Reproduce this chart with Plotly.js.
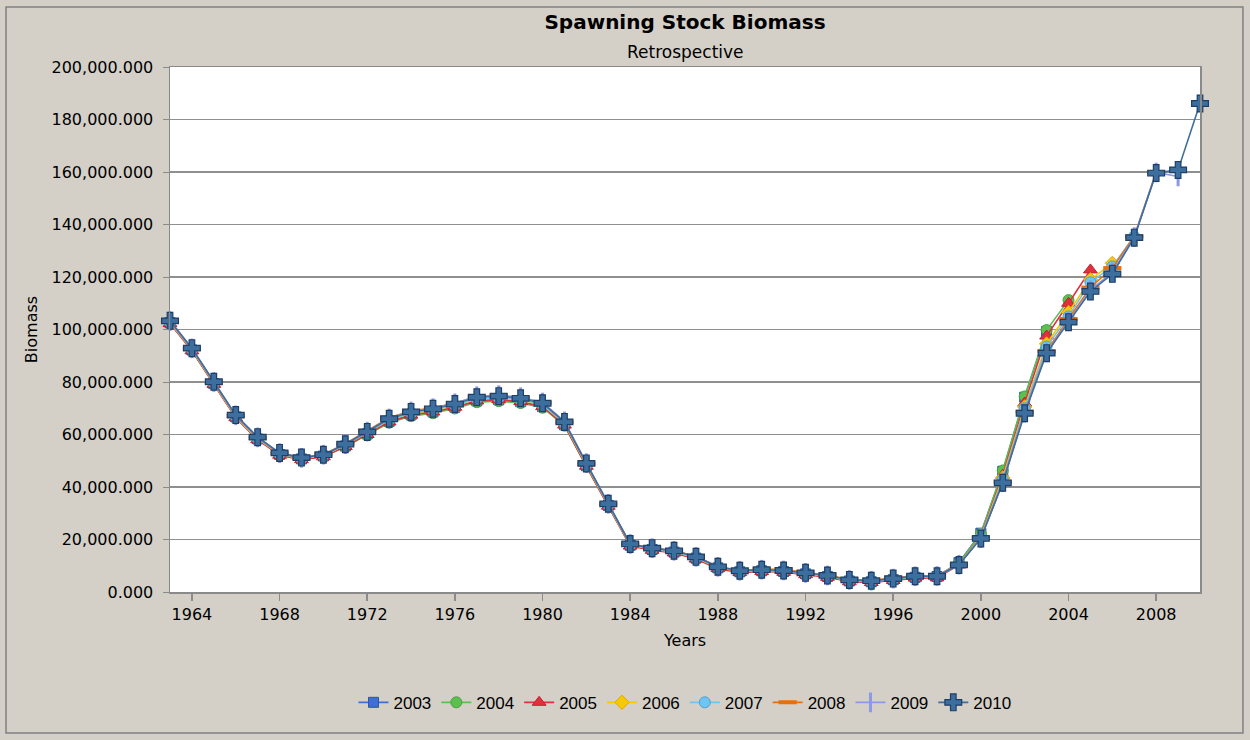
<!DOCTYPE html>
<html>
<head>
<meta charset="utf-8">
<script src="https://cdn.plot.ly/plotly-3.0.1.min.js"></script>
<style>html,body{margin:0;padding:0;background:#D4D0C8;}#chart{width:1250px;height:740px;}</style>
</head>
<body>
<div id="chart"></div>
<script>
// Years 1963..2010
const years = [1963,1964,1965,1966,1967,1968,1969,1970,1971,1972,
  1973,1974,1975,1976,1977,1978,1979,1980,1981,1982,
  1983,1984,1985,1986,1987,1988,1989,1990,1991,1992,
  1993,1994,1995,1996,1997,1998,1999,2000,2001,2002,
  2003,2004,2005,2006,2007,2008,2009,2010];

// Spawning stock biomass by retrospective run (thousands)
const ssb2003 = [102600,92200,79400,66700,58300,52400,50700,51800,55600,60200,
  65000,67500,68600,70400,72800,73200,72500,70600,63700,48100,
  33000,17800,16200,15200,12900,9200,7700,8100,7800,6900,
  5900,4200,3900,4700,5600,5900,11200,22400,46000,74200,
  99300];
const ssb2004 = [102500,92100,79300,66600,58200,52300,50500,51600,55300,59800,
  64500,67000,68100,69900,72300,72700,72000,70200,63400,47900,
  32900,17800,16200,15200,12900,9200,7700,8100,7800,6900,
  5900,4200,3900,4700,5600,5800,11000,22200,46300,74500,
  99800,111200];
const ssb2005 = [102300,91900,79100,66400,58000,52100,50400,51500,55400,60000,
  64800,67400,68600,70400,72800,73200,72500,70600,63600,47900,
  32700,17500,15900,14900,12600,8900,7400,7800,7500,6600,
  5600,3900,3600,4400,5300,5400,10300,21300,44500,72000,
  97500,110000,122700];
const ssb2006 = [102700,92300,79500,66800,58400,52500,50800,52000,56000,60700,
  65500,68100,69300,71100,73500,73900,73200,71300,64200,48400,
  33100,17900,16300,15300,13000,9300,7800,8200,7900,7000,
  6000,4300,4000,4800,5700,5800,10500,21000,43500,70500,
  94500,106500,119000,125200];
const ssb2007 = [102800,92400,79600,66900,58500,52600,50900,52100,56100,60800,
  65600,68200,69400,71200,73600,74000,73300,71400,64300,48500,
  33200,18000,16400,15400,13100,9400,7900,8300,8000,7100,
  6100,4400,4100,4900,5800,5900,10400,20800,42800,70000,
  93500,105000,118000,124000,135500];
const ssb2008 = [103000,92600,79800,67100,58700,52800,51100,52400,56500,61400,
  66400,69000,70100,72000,74400,74800,74000,72100,64700,48800,
  33400,18200,16700,15800,13500,9700,8200,8700,8600,7400,
  6400,4800,4400,5400,6200,6300,10500,20600,42000,68700,
  91800,104000,116000,123400,135500,160000];
const ssb2009 = [103200,92800,80000,67300,58900,52900,51100,52300,56300,61100,
  66100,68800,70000,71900,74600,75000,74200,72200,65000,49100,
  33600,18300,16700,15700,13400,9600,8100,8500,8200,7300,
  6300,4600,4300,5100,6000,6100,10400,20500,41800,68300,
  91300,103200,115000,121800,135200,159800,158300];
const ssb2010 = [103300,92900,80100,67400,59000,53000,51200,52300,56300,61000,
  66000,68600,69800,71600,74200,74600,73800,71900,64800,49000,
  33600,18300,16700,15700,13400,9600,8100,8500,8200,7300,
  6300,4600,4300,5100,6000,6000,10300,20400,41600,68100,
  91000,102800,114500,121200,135000,159600,160800,186100];

const seriesNames = ['2003','2004','2005','2006','2007','2008','2009','2010'];
const seriesValues = [ssb2003, ssb2004, ssb2005, ssb2006, ssb2007, ssb2008, ssb2009, ssb2010];

const styles = [
  {color:'#3F6FD0', symbol:'square', size:10, lineColor:'#2A55B0', lw:1},
  {color:'#5CC050', symbol:'circle', size:11, lineColor:'#48A040', lw:1},
  {color:'#E0303C', symbol:'triangle-up', size:12, lineColor:'#C02030', lw:1},
  {color:'#F8C800', symbol:'diamond', size:11, lineColor:'#E0A800', lw:1},
  {color:'#70C4F0', symbol:'circle', size:11, lineColor:'#4AA0D8', lw:1},
  {color:'#E8700C', symbol:'line-ew', size:13, lineColor:'#E8700C', lw:4},
  {color:'#8C98E8', symbol:'line-ns-open', size:14, lineColor:'#8C98E8', lw:3},
  {color:'#3C6E9E', symbol:'cross', size:14, lineColor:'#1E3E66', lw:1.2}
];

const traces = seriesNames.map((name, i) => ({
  type: 'scatter',
  mode: 'lines+markers',
  name: name,
  cliponaxis: false,
  x: years.slice(0, seriesValues[i].length),
  y: seriesValues[i],
  line: {color: styles[i].color, width: 1.6},
  marker: {symbol: styles[i].symbol, size: styles[i].size, color: styles[i].color,
           line: {color: styles[i].lineColor, width: styles[i].lw}}
}));

const font = 'DejaVu Sans, Verdana, sans-serif';
const layout = {
  width: 1250, height: 740,
  paper_bgcolor: '#D4D0C8',
  plot_bgcolor: '#FFFFFF',
  margin: {l: 170, r: 50, t: 67, b: 148},
  font: {family: font, size: 16, color: '#000000'},
  title: {text: '<b>Spawning Stock Biomass</b>', font: {family: font, size: 20, color: '#000'},
          x: 0.548, xanchor: 'center', yref: 'container', y: 0.970, yanchor: 'middle'},
  showlegend: true,
  legend: {orientation: 'h', x: 0.5, xanchor: 'center', y: -0.211, yanchor: 'middle',
           font: {family: 'Liberation Sans, Arial, sans-serif', size: 17}, bgcolor: 'rgba(0,0,0,0)', itemwidth: 30,
           tracegroupgap: 0},
  xaxis: {
    range: [1963, 2010], tick0: 1964, dtick: 4, tickmode: 'linear',
    showgrid: false, zeroline: false,
    showline: true, mirror: true, linecolor: '#8A8A8A', linewidth: 1.5,
    ticks: 'outside', ticklen: 7, tickcolor: '#8A8A8A', tickwidth: 1.5,
    tickfont: {family: font, size: 16},
    title: {text: 'Years', font: {family: font, size: 16}, standoff: 12},
    automargin: false
  },
  yaxis: {
    range: [0, 200000], dtick: 20000, tickformat: ',.3f',
    showgrid: true, gridcolor: '#8F8F8F', gridwidth: 1.5, zeroline: false,
    showline: true, mirror: true, linecolor: '#8A8A8A', linewidth: 1.5,
    ticks: 'outside', ticklen: 6, tickcolor: '#8A8A8A', tickwidth: 1,
    tickfont: {family: font, size: 16}, ticklabelstandoff: 6,
    title: {text: 'Biomass', font: {family: font, size: 16}, standoff: 10},
    automargin: false
  },
  annotations: [
    {text: 'Retrospective', xref: 'paper', yref: 'paper', x: 0.5, y: 1.0286,
     xanchor: 'center', yanchor: 'middle', showarrow: false, font: {family: font, size: 17}}
  ],
  shapes: [
    {type: 'rect', xref: 'paper', yref: 'paper', x0: -0.1592, x1: 1.0417, y0: -0.2686, y1: 1.1143,
     line: {color: '#808080', width: 1.5}, fillcolor: 'rgba(0,0,0,0)', layer: 'below'}
  ]
};

Plotly.newPlot('chart', traces, layout, {displayModeBar: false, staticPlot: true});
</script>
</body>
</html>
